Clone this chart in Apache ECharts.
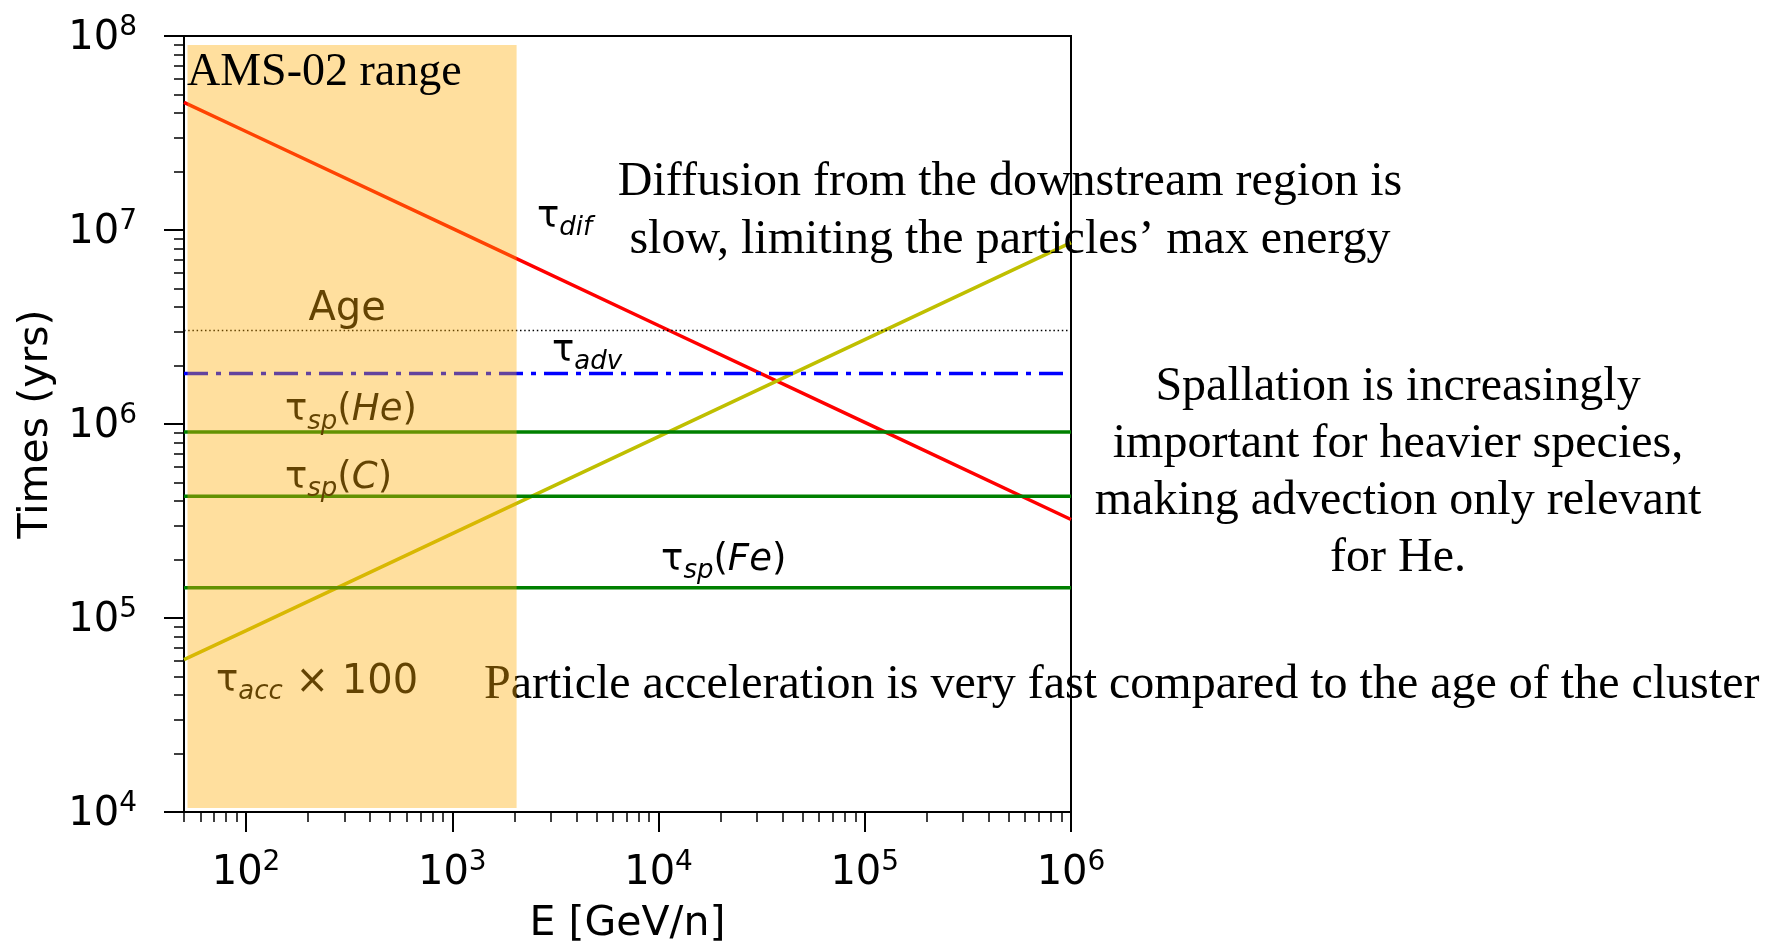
<!DOCTYPE html>
<html>
<head>
<meta charset="utf-8">
<script src="https://cdn.jsdelivr.net/npm/echarts@6/dist/echarts.min.js"></script>
<style>
  html, body { margin: 0; padding: 0; background: #ffffff; }
  #chart { width: 1774px; height: 942px; }
</style>
</head>
<body>
<div id="chart"></div>
<script>
// Energy per nucleon (GeV/n) at which the power-law timescales are sampled
const energies = [50, 100, 1000, 10000, 100000, 1000000];
// Diffusion time from the downstream region (yrs)
const tauDif = [4.55e7, 3.22e7, 1.02e7, 3.22e6, 1.02e6, 3.22e5];
// Acceleration time, scaled by 100 (yrs)
const tauAcc100 = [6.1e4, 8.6e4, 2.72e5, 8.6e5, 2.72e6, 8.6e6];
// Energy-independent timescales span the whole energy axis
const energySpan = [50, 1000000];
const clusterAge = [3.03e6, 3.03e6];
const tauAdv = [1.82e6, 1.82e6];
const tauSpHe = [9.1e5, 9.1e5];
const tauSpC = [4.24e5, 4.24e5];
const tauSpFe = [1.43e5, 1.43e5];
// AMS-02 energy window and the vertical extent of its shading
const amsEnergy = [52, 2050];
const amsTimes = [1.05e4, 9e7];
// Axis ranges and decade ticks
const xRange = [50, 1000000];
const yRange = [1e4, 1e8];
const xMajorTicks = [100, 1000, 10000, 100000, 1000000];
const yMajorTicks = [1e4, 1e5, 1e6, 1e7, 1e8];

// Minor ticks at 2..9 times each decade
function decadeMinors(lo, hi) {
  const out = [];
  for (let d = lo; d < hi; d *= 10) {
    for (let m = 2; m <= 9; m++) out.push(m * d);
  }
  return out;
}
const xMinorTicks = [50, 60, 70, 80, 90].concat(decadeMinors(100, 1000000));
const yMinorTicks = decadeMinors(1e4, 1e8);

function zip(xs, ys) { return xs.map((x, i) => [x, ys[i]]); }

const SANS = 'DejaVu Sans';
const SERIF = 'Liberation Serif';

// "10" with a raised exponent
function powerLabel(v) {
  const e = Math.round(Math.log10(v));
  return '{b|10}{p|' + e + '}';
}
const powerRich = {
  b: { fontFamily: SANS, fontSize: 40, color: '#000', verticalAlign: 'top', padding: [5, 0, 0, 0] },
  p: { fontFamily: SANS, fontSize: 28, color: '#000', verticalAlign: 'top', padding: [0, 0, 0, 0] }
};

const tickLine = { color: '#000', width: 2 };
const minorLine = { color: '#000', width: 1.5 };

function logAxisPair(range, majors, minors, isX) {
  const main = {
    type: 'log', logBase: 10, min: range[0], max: range[1],
    axisLine: { show: true, onZero: false, lineStyle: { color: '#000', width: 2 } },
    axisTick: { show: true, inside: false, length: 20, customValues: majors, lineStyle: tickLine },
    axisLabel: {
      show: true, customValues: majors, formatter: powerLabel, rich: powerRich,
      margin: isX ? 37 : 47, hideOverlap: false
    },
    minorTick: { show: false },
    splitLine: { show: false },
    minorSplitLine: { show: false },
    nameLocation: 'middle',
    nameMoveOverlap: false,
    nameTextStyle: { fontFamily: SANS, fontSize: 41, color: '#000' }
  };
  const minor = {
    type: 'log', logBase: 10, min: range[0], max: range[1],
    position: isX ? 'bottom' : 'left',
    axisLine: { show: false },
    axisTick: { show: true, inside: false, length: 10, customValues: minors, lineStyle: minorLine },
    axisLabel: { show: false },
    splitLine: { show: false }
  };
  return [main, minor];
}

const xAxes = logAxisPair(xRange, xMajorTicks, xMinorTicks, true);
xAxes[0].name = 'E [GeV/n]';
xAxes[0].nameGap = 92;
xAxes[0].position = 'bottom';
const yAxes = logAxisPair(yRange, yMajorTicks, yMinorTicks, false);
yAxes[0].name = 'Times (yrs)';
yAxes[0].nameGap = 127;
yAxes[0].position = 'left';

function lineSeries(name, data, color, width, type) {
  return {
    name, type: 'line', data, xAxisIndex: 0, yAxisIndex: 0,
    symbol: 'none', showSymbol: false, silent: true, animation: false,
    z: 2, color,
    lineStyle: { color, width, type: type || 'solid', cap: 'butt' }
  };
}

const option = {
  animation: false,
  backgroundColor: '#ffffff',
  grid: {
    left: 184, top: 36, width: 887, height: 776,
    show: true, borderColor: '#000', borderWidth: 2, backgroundColor: 'transparent',
    containLabel: false, outerBoundsMode: 'none'
  },
  xAxis: xAxes,
  yAxis: yAxes,
  series: [
    lineSeries('dif', zip(energies, tauDif), '#ff0000', 3.5),
    lineSeries('acc', zip(energies, tauAcc100), '#bfbf00', 3.5),
    lineSeries('age', zip(energySpan, clusterAge), '#000000', 1.5, [1.5, 2.7]),
    lineSeries('adv', zip(energySpan, tauAdv), '#0000ff', 3.5, [24, 8, 5, 8]),
    lineSeries('spHe', zip(energySpan, tauSpHe), '#008000', 3.5),
    lineSeries('spC', zip(energySpan, tauSpC), '#008000', 3.5),
    lineSeries('spFe', zip(energySpan, tauSpFe), '#008000', 3.5),
    {
      // Translucent AMS-02 window laid over the curves
      name: 'ams', type: 'custom', xAxisIndex: 0, yAxisIndex: 0,
      z: 5, silent: true, animation: false,
      data: [[amsEnergy[0], amsEnergy[1], amsTimes[0], amsTimes[1]]],
      encode: { x: [0, 1], y: [2, 3] },
      renderItem: function (params, api) {
        const p0 = api.coord([api.value(0), api.value(3)]);
        const p1 = api.coord([api.value(1), api.value(2)]);
        return {
          type: 'rect',
          shape: { x: p0[0], y: p0[1], width: p1[0] - p0[0], height: p1[1] - p0[1] },
          style: { fill: 'rgba(255,172,5,0.39)' }
        };
      }
    }
  ]
};

const chart = echarts.init(document.getElementById('chart'), null, { renderer: 'canvas' });
chart.setOption(option);

// Curve labels, anchored at their top-left corner in data space
const mathRich = {
  t: { fontFamily: SANS, fontSize: 37, color: '#000', verticalAlign: 'top' },
  a: { fontFamily: SANS, fontSize: 40, color: '#000', verticalAlign: 'top' },
  i: { fontFamily: SANS, fontSize: 37, fontStyle: 'italic', color: '#000', verticalAlign: 'top' },
  s: { fontFamily: SANS, fontSize: 26, fontStyle: 'italic', color: '#000', verticalAlign: 'top', padding: [17, 0, 0, 0] }
};
const curveLabels = [
  { at: [2576, 1.453e7], text: '{t|τ}{s|dif}', align: 'left' },
  { at: [3046, 2.96e6], text: '{t|τ}{s|adv}', align: 'left' },
  { at: [309, 4.95e6], text: '{a|Age}', align: 'center' },
  { at: [154.5, 1.458e6], text: '{t|τ}{s|sp}{t|(}{i|He}{t|)}', align: 'left' },
  { at: [154.5, 6.56e5], text: '{t|τ}{s|sp}{t|(}{i|C}{t|)}', align: 'left' },
  { at: [10290, 2.48e5], text: '{t|τ}{s|sp}{t|(}{i|Fe}{t|)}', align: 'left' },
  { at: [71.5, 5.9e4], text: '{t|τ}{s|acc}{a| × 100}', align: 'left' }
];

const graphics = curveLabels.map(function (lab) {
  const p = chart.convertToPixel({ gridIndex: 0 }, lab.at);
  return {
    type: 'text', x: p[0], y: p[1], z: 3, silent: true,
    style: { text: lab.text, rich: mathRich, align: lab.align, verticalAlign: 'top' }
  };
});

const serifStyle = { fontFamily: SERIF, fontSize: 48, fill: '#000' };
graphics.push(
  {
    type: 'text', x: 187, y: 73, z: 10, silent: true,
    style: Object.assign({}, serifStyle, { fontSize: 46, text: 'AMS-02 range', align: 'left', verticalAlign: 'middle' })
  },
  {
    type: 'text', x: 1010, y: 211, z: 3, silent: true,
    style: Object.assign({}, serifStyle, {
      text: 'Diffusion from the downstream region is\nslow, limiting the particles\u2019 max energy',
      align: 'center', verticalAlign: 'middle', lineHeight: 58
    })
  },
  {
    type: 'text', x: 1398, y: 472.5, z: 3, silent: true,
    style: Object.assign({}, serifStyle, {
      text: 'Spallation is increasingly\nimportant for heavier species,\nmaking advection only relevant\nfor He.',
      align: 'center', verticalAlign: 'middle', lineHeight: 57
    })
  },
  {
    type: 'text', x: 484, y: 685, z: 3, silent: true,
    style: Object.assign({}, serifStyle, {
      text: 'Particle acceleration is very fast compared to the age of the cluster',
      align: 'left', verticalAlign: 'middle'
    })
  }
);

chart.setOption({ graphic: graphics });
</script>
</body>
</html>
